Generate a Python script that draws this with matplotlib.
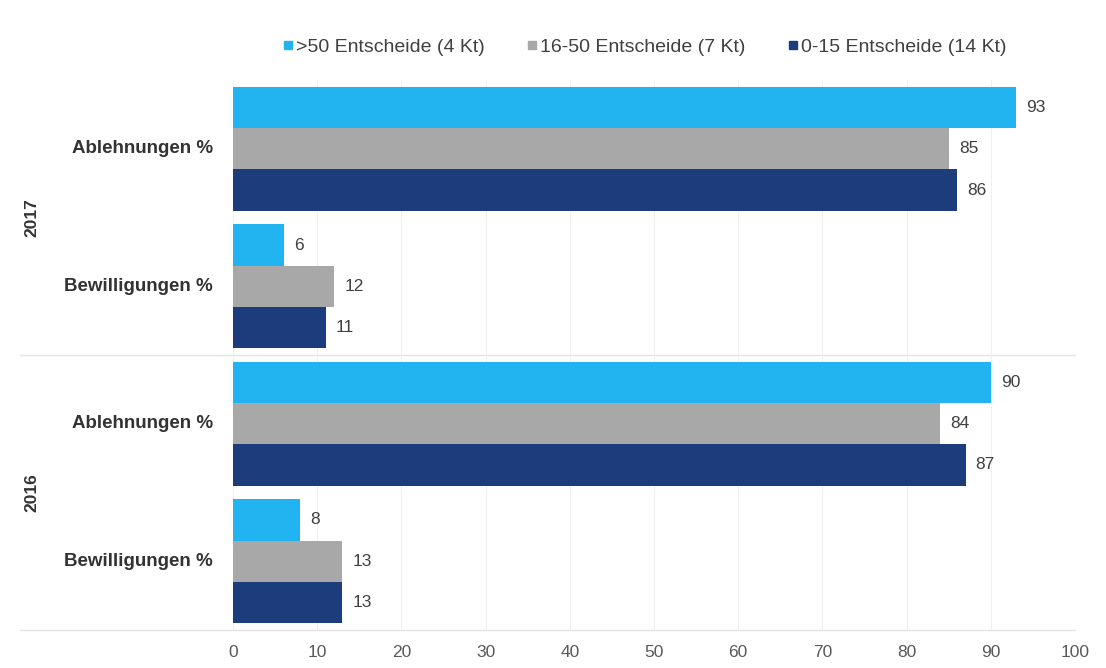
import matplotlib
matplotlib.use("Agg")
import matplotlib.pyplot as plt
from matplotlib.lines import Line2D
import numpy as np

plt.rcParams['font.family'] = ['Liberation Sans', 'DejaVu Sans']

# data
years = ["2017", "2016"]
categories = ["Ablehnungen %", "Bewilligungen %"]
series = [">50 Entscheide (4 Kt)", "16-50 Entscheide (7 Kt)", "0-15 Entscheide (14 Kt)"]
colors = ["#22b4f0", "#a8a8a8", "#1c3c7c"]
# rows: 2017 Abl, 2017 Bew, 2016 Abl, 2016 Bew
gt50 = [93, 6, 90, 8]
mid = [85, 12, 84, 13]
low = [86, 11, 87, 13]

fig = plt.figure(figsize=(11.06, 6.68), dpi=100)
ax = fig.add_axes([0.2107, 0.057, 0.972 - 0.2107, 0.823])

pos = np.arange(4)
h = 0.3
for i, (vals, c) in enumerate(zip([gt50, mid, low], colors)):
    y = pos - h + i * h
    ax.barh(y, vals, height=h, color=c, zorder=3)
    for yy, v in zip(y, vals):
        ax.text(v + 1.2, yy, str(v), va='center', ha='left', fontsize=12.5, color='#404040')

ax.set_xlim(0, 100)
ax.set_ylim(3.5, -0.5)
ax.set_xticks(range(0, 101, 10))
ax.tick_params(axis='x', length=0, labelsize=12.5, labelcolor='#595959', pad=11)
ax.set_yticks([])
ax.grid(axis='x', color='#f0f0f0', linewidth=0.8, zorder=0)
for s in ax.spines.values():
    s.set_visible(False)

# category labels and year labels
for p in pos:
    ax.text(-0.024, p, categories[p % 2], transform=ax.get_yaxis_transform(),
            ha='right', va='center', fontsize=13.5, fontweight='bold', color='#333333')
for k, yr in enumerate(years):
    ax.text(-0.239, 2 * k + 0.5, yr, transform=ax.get_yaxis_transform(), rotation=90,
            ha='center', va='center', fontsize=12.5, fontweight='bold', color='#333333')

# separators
for yline in [1.5, 3.5]:
    ax.plot([-0.253, 1.0], [yline, yline], transform=ax.get_yaxis_transform(),
            color='#e4e4e4', linewidth=1, clip_on=False, zorder=1)

handles = [Line2D([], [], marker='s', linestyle='none', markersize=6, color=c) for c in colors]
fig.legend(handles, series, loc='center', bbox_to_anchor=(0.583, 0.93), ncol=3, frameon=False,
           fontsize=14, handlelength=0.5, handletextpad=0.15, columnspacing=2.2,
           labelcolor='#404040')

fig.savefig("out.png", dpi=100, facecolor='white')
